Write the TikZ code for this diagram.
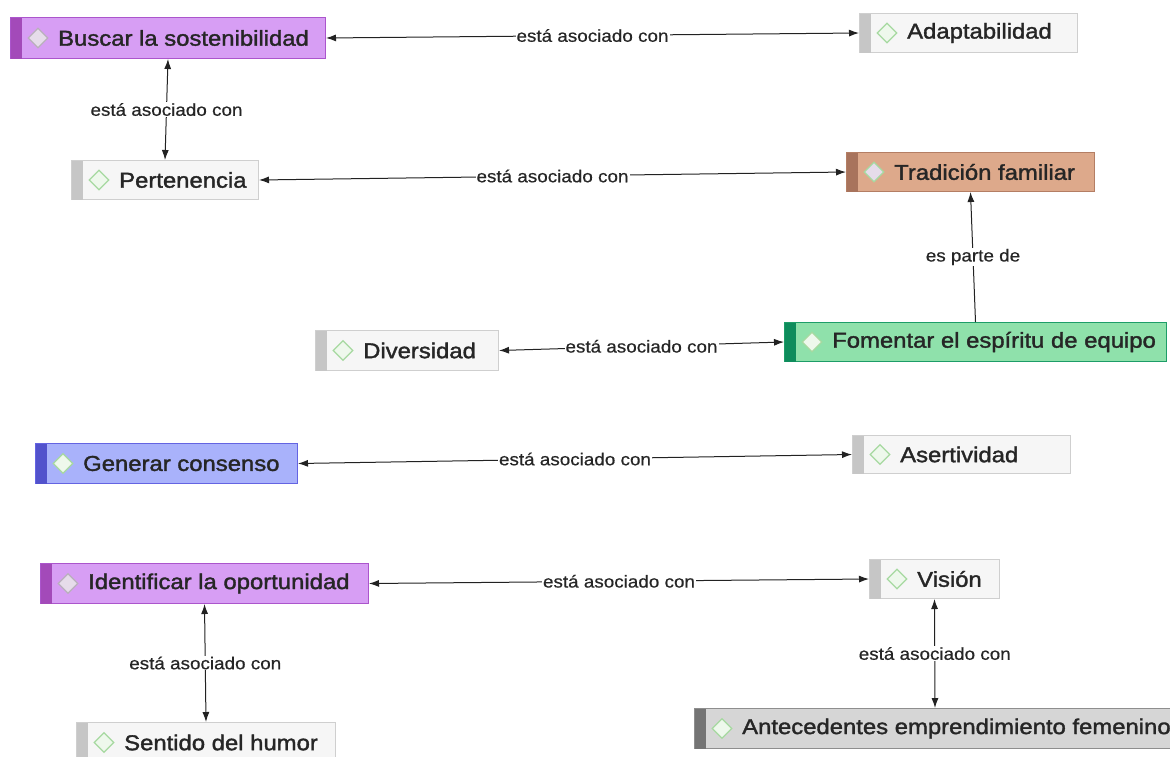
\documentclass[tikz,border=0pt]{standalone}
\usepackage{fontspec}
\usetikzlibrary{arrows.meta,shapes.geometric}
\newfontfamily\nodefont[FakeStretch=1.1,
  BoldFont={Liberation Sans}, BoldFeatures={FakeBold=1.6,FakeStretch=1.11}]{Liberation Sans}
\newfontfamily\linkfont[FakeStretch=1.09,
  BoldFont={Liberation Sans}, BoldFeatures={FakeBold=0.5,FakeStretch=1.09}]{Liberation Sans}

% palette
\definecolor{txt}{HTML}{262626}
\definecolor{plainfill}{HTML}{F6F6F6}
\definecolor{plainedge}{HTML}{CFCFCF}
\definecolor{plainbar}{HTML}{C6C6C6}
\definecolor{purplefill}{HTML}{D79EF4}
\definecolor{purpleedge}{HTML}{AB55CC}
\definecolor{purplebar}{HTML}{A34AB9}
\definecolor{brownfill}{HTML}{DDA98B}
\definecolor{brownedge}{HTML}{B47E64}
\definecolor{brownbar}{HTML}{A8735C}
\definecolor{greenfill}{HTML}{8FE1AB}
\definecolor{greenedge}{HTML}{1D9D68}
\definecolor{greenbar}{HTML}{0E8C5C}
\definecolor{bluefill}{HTML}{A9B2FB}
\definecolor{blueedge}{HTML}{6464E2}
\definecolor{bluebar}{HTML}{5252CC}
\definecolor{greyfill}{HTML}{D6D6D6}
\definecolor{greyedge}{HTML}{8E8E8E}
\definecolor{greybar}{HTML}{747474}
\definecolor{iconedge}{HTML}{A6D9A0}
\definecolor{iconmutededge}{HTML}{B9B0BC}
\definecolor{iconlight}{HTML}{EEF8EC}
\definecolor{iconmuted}{HTML}{E6DCEA}
\definecolor{linkcol}{HTML}{222222}

\tikzset{
  cbox/.style={rectangle, line width=1pt, inner sep=0pt, anchor=north west},
  cicon/.style={diamond, line width=1.2pt, inner sep=0pt,
    minimum width=20pt, minimum height=20pt},
  ctext/.style={anchor=west, inner sep=0pt, text=txt,
    font=\nodefont\bfseries\fontsize{21.5}{24}\selectfont},
  tip/.tip={Latex[length=10pt,width=7pt]},
  link/.style={draw=linkcol, line width=1pt, tip-tip},
  onelink/.style={draw=linkcol, line width=1pt, -tip},
  lbl/.style={fill=white, inner sep=1pt, text=txt,
    font=\linkfont\bfseries\fontsize{17.3}{19}\selectfont}
}

% name, left, top, right, bottom, fill, edge, bar, icon style
\newcommand\conceptbox[9]{%
  \node[cbox, fill=#6, draw=#7, minimum width={(#4)-(#2)},
        minimum height={(#5)-(#3)}] (#1) at (#2,#3) {};
  \fill[#8] ([shift={(0.5pt,-0.5pt)}]#1.north west) rectangle
            ([shift={(11.5pt,0.5pt)}]#1.south west);
  \node[cicon, #9] at ([xshift=28pt]#1.west) {};
}
\newcommand\boxtext[2]{\node[ctext] at ([xshift=48pt]#1.west) {#2};}
\tikzset{
  lighticon/.style={draw=iconedge, fill=iconlight},
  mutedicon/.style={draw=iconmutededge, fill=iconmuted},
  warmicon/.style={draw=iconedge, fill=iconmuted}
}

\begin{document}
\begin{tikzpicture}[x=1pt,y=-1pt]
\useasboundingbox (0,0) rectangle (1170,756);
\clip (0,0) rectangle (1170,756);
\fill[white] (0,0) rectangle (1170,756);

% concepts
\conceptbox{buscar}{10}{17}{325}{58}{purplefill}{purpleedge}{purplebar}{mutedicon}
\boxtext{buscar}{Buscar la sostenibilidad}
\conceptbox{adapt}{859}{13}{1077}{52}{plainfill}{plainedge}{plainbar}{lighticon}
\boxtext{adapt}{Adaptabilidad}
\conceptbox{perten}{71}{160}{258}{199}{plainfill}{plainedge}{plainbar}{lighticon}
\boxtext{perten}{Pertenencia}
\conceptbox{tradicion}{846}{152}{1094}{191}{brownfill}{brownedge}{brownbar}{warmicon}
\boxtext{tradicion}{Tradición familiar}
\conceptbox{divers}{315}{330}{498}{370}{plainfill}{plainedge}{plainbar}{lighticon}
\boxtext{divers}{Diversidad}
\conceptbox{fomentar}{784}{322}{1166}{361}{greenfill}{greenedge}{greenbar}{lighticon}
\boxtext{fomentar}{Fomentar el espíritu de equipo}
\conceptbox{generar}{35}{443}{297}{483}{bluefill}{blueedge}{bluebar}{lighticon}
\boxtext{generar}{Generar consenso}
\conceptbox{asert}{852}{435}{1070}{473}{plainfill}{plainedge}{plainbar}{lighticon}
\boxtext{asert}{Asertividad}
\conceptbox{identif}{40}{563}{368}{603}{purplefill}{purpleedge}{purplebar}{mutedicon}
\boxtext{identif}{Identificar la oportunidad}
\conceptbox{vision}{869}{559}{999}{598}{plainfill}{plainedge}{plainbar}{lighticon}
\boxtext{vision}{Visión}
\conceptbox{antec}{694}{708}{1175}{748}{greyfill}{greyedge}{greybar}{lighticon}
\boxtext{antec}{Antecedentes emprendimiento femenino}
\conceptbox{sentido}{76}{722}{335}{762}{plainfill}{plainedge}{plainbar}{lighticon}
\boxtext{sentido}{Sentido del humor}

% links
\draw[link] (buscar.east) -- node[lbl] {está asociado con} (adapt.west);
\draw[link] (buscar.south) -- node[lbl] {está asociado con} (perten.north);
\draw[link] (perten.east) -- node[lbl] {está asociado con} (tradicion.west);
\draw[onelink] (fomentar.north) -- node[lbl] {es parte de} (tradicion.south);
\draw[link] (divers.east) -- node[lbl] {está asociado con} (fomentar.west);
\draw[link] (generar.east) -- node[lbl] {está asociado con} (asert.west);
\draw[link] (identif.east) -- node[lbl] {está asociado con} (vision.west);
\draw[link] (identif.south) -- node[lbl] {está asociado con} (sentido.north);
\draw[link] (vision.south) -- node[lbl] {está asociado con} (antec.north);
\end{tikzpicture}
\end{document}
